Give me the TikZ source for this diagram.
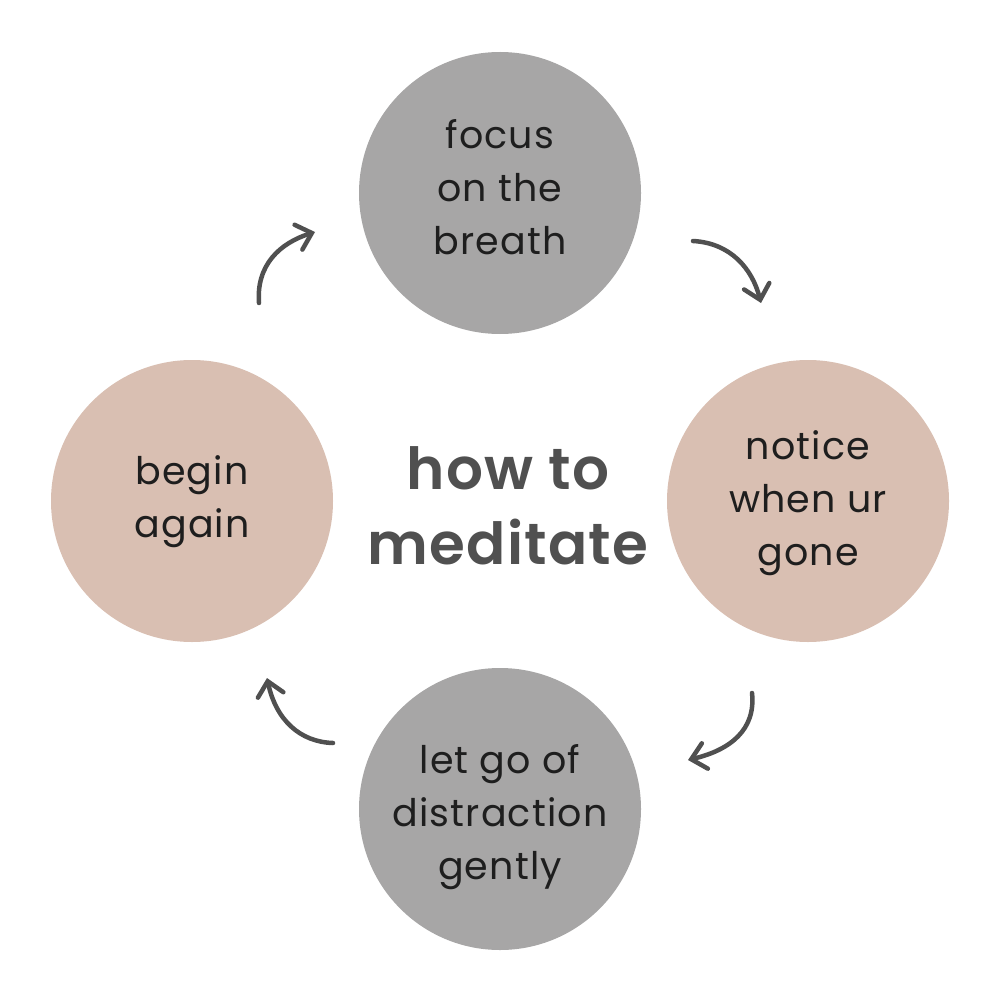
\documentclass[tikz,border=0pt]{standalone}
\usepackage{fontspec}
\setmainfont{Poppins}[LetterSpace=3]
\newfontfamily\titlefont{Poppins SemiBold}[LetterSpace=2]
\usetikzlibrary{arrows.meta}
\definecolor{cgray}{HTML}{A7A6A6}
\definecolor{cpink}{HTML}{D9BFB2}
\definecolor{ctext}{HTML}{1E1E1E}
\definecolor{ctitle}{HTML}{505050}
\definecolor{carrow}{HTML}{505050}
\begin{document}
\begin{tikzpicture}[x=1pt,y=-1pt,
  blob/.style={circle,minimum size=282pt,inner sep=0pt},
  grayblob/.style={blob,fill=cgray},
  pinkblob/.style={blob,fill=cpink},
  txt/.style={align=center,text=ctext,inner sep=0pt,
    font=\fontsize{38}{53}\selectfont},
  curvy/.style={draw=carrow,line width=4.5pt,line cap=round,
    -{Straight Barb[length=14pt,width=26pt,line width=4.5pt,line cap=round]}}]
\useasboundingbox (0,0) rectangle (1000,1000);
\node[grayblob] (top) at (500,193) {};
\node[pinkblob] (right) at (808,501) {};
\node[grayblob] (bottom) at (500,809) {};
\node[pinkblob] (left) at (192,501) {};
\node[txt] (toptxt) at ([yshift=6pt]top.center) {focus\\on the\\breath};
\node[txt] (righttxt) at ([yshift=-2pt]right.center) {notice\\when ur\\gone};
\node[txt] (bottomtxt) at ([yshift=-8pt]bottom.center) {let go of\\distraction\\gently};
\node[txt] (lefttxt) at ([yshift=-1pt]left.center) {begin\\again};
\node[text=ctitle,align=center,font=\titlefont\fontsize{58}{75}\selectfont] (title) at (508,506) {how to\\meditate};
\coordinate (a1s) at (259,303); \coordinate (a1e) at (315,232);
\coordinate (a2s) at (693,241); \coordinate (a2e) at (761,303);
\coordinate (a3s) at (752,693); \coordinate (a3e) at (688,760);
\coordinate (a4s) at (333,743); \coordinate (a4e) at (267,678);
\draw[curvy] (a1s) .. controls (256,265) and (280,243) .. (a1e);
\draw[curvy] (a2s) .. controls (730,243) and (752,268) .. (a2e);
\draw[curvy] (a3s) .. controls (756,730) and (730,750) .. (a3e);
\draw[curvy] (a4s) .. controls (300,742) and (276,720) .. (a4e);
\end{tikzpicture}
\end{document}
